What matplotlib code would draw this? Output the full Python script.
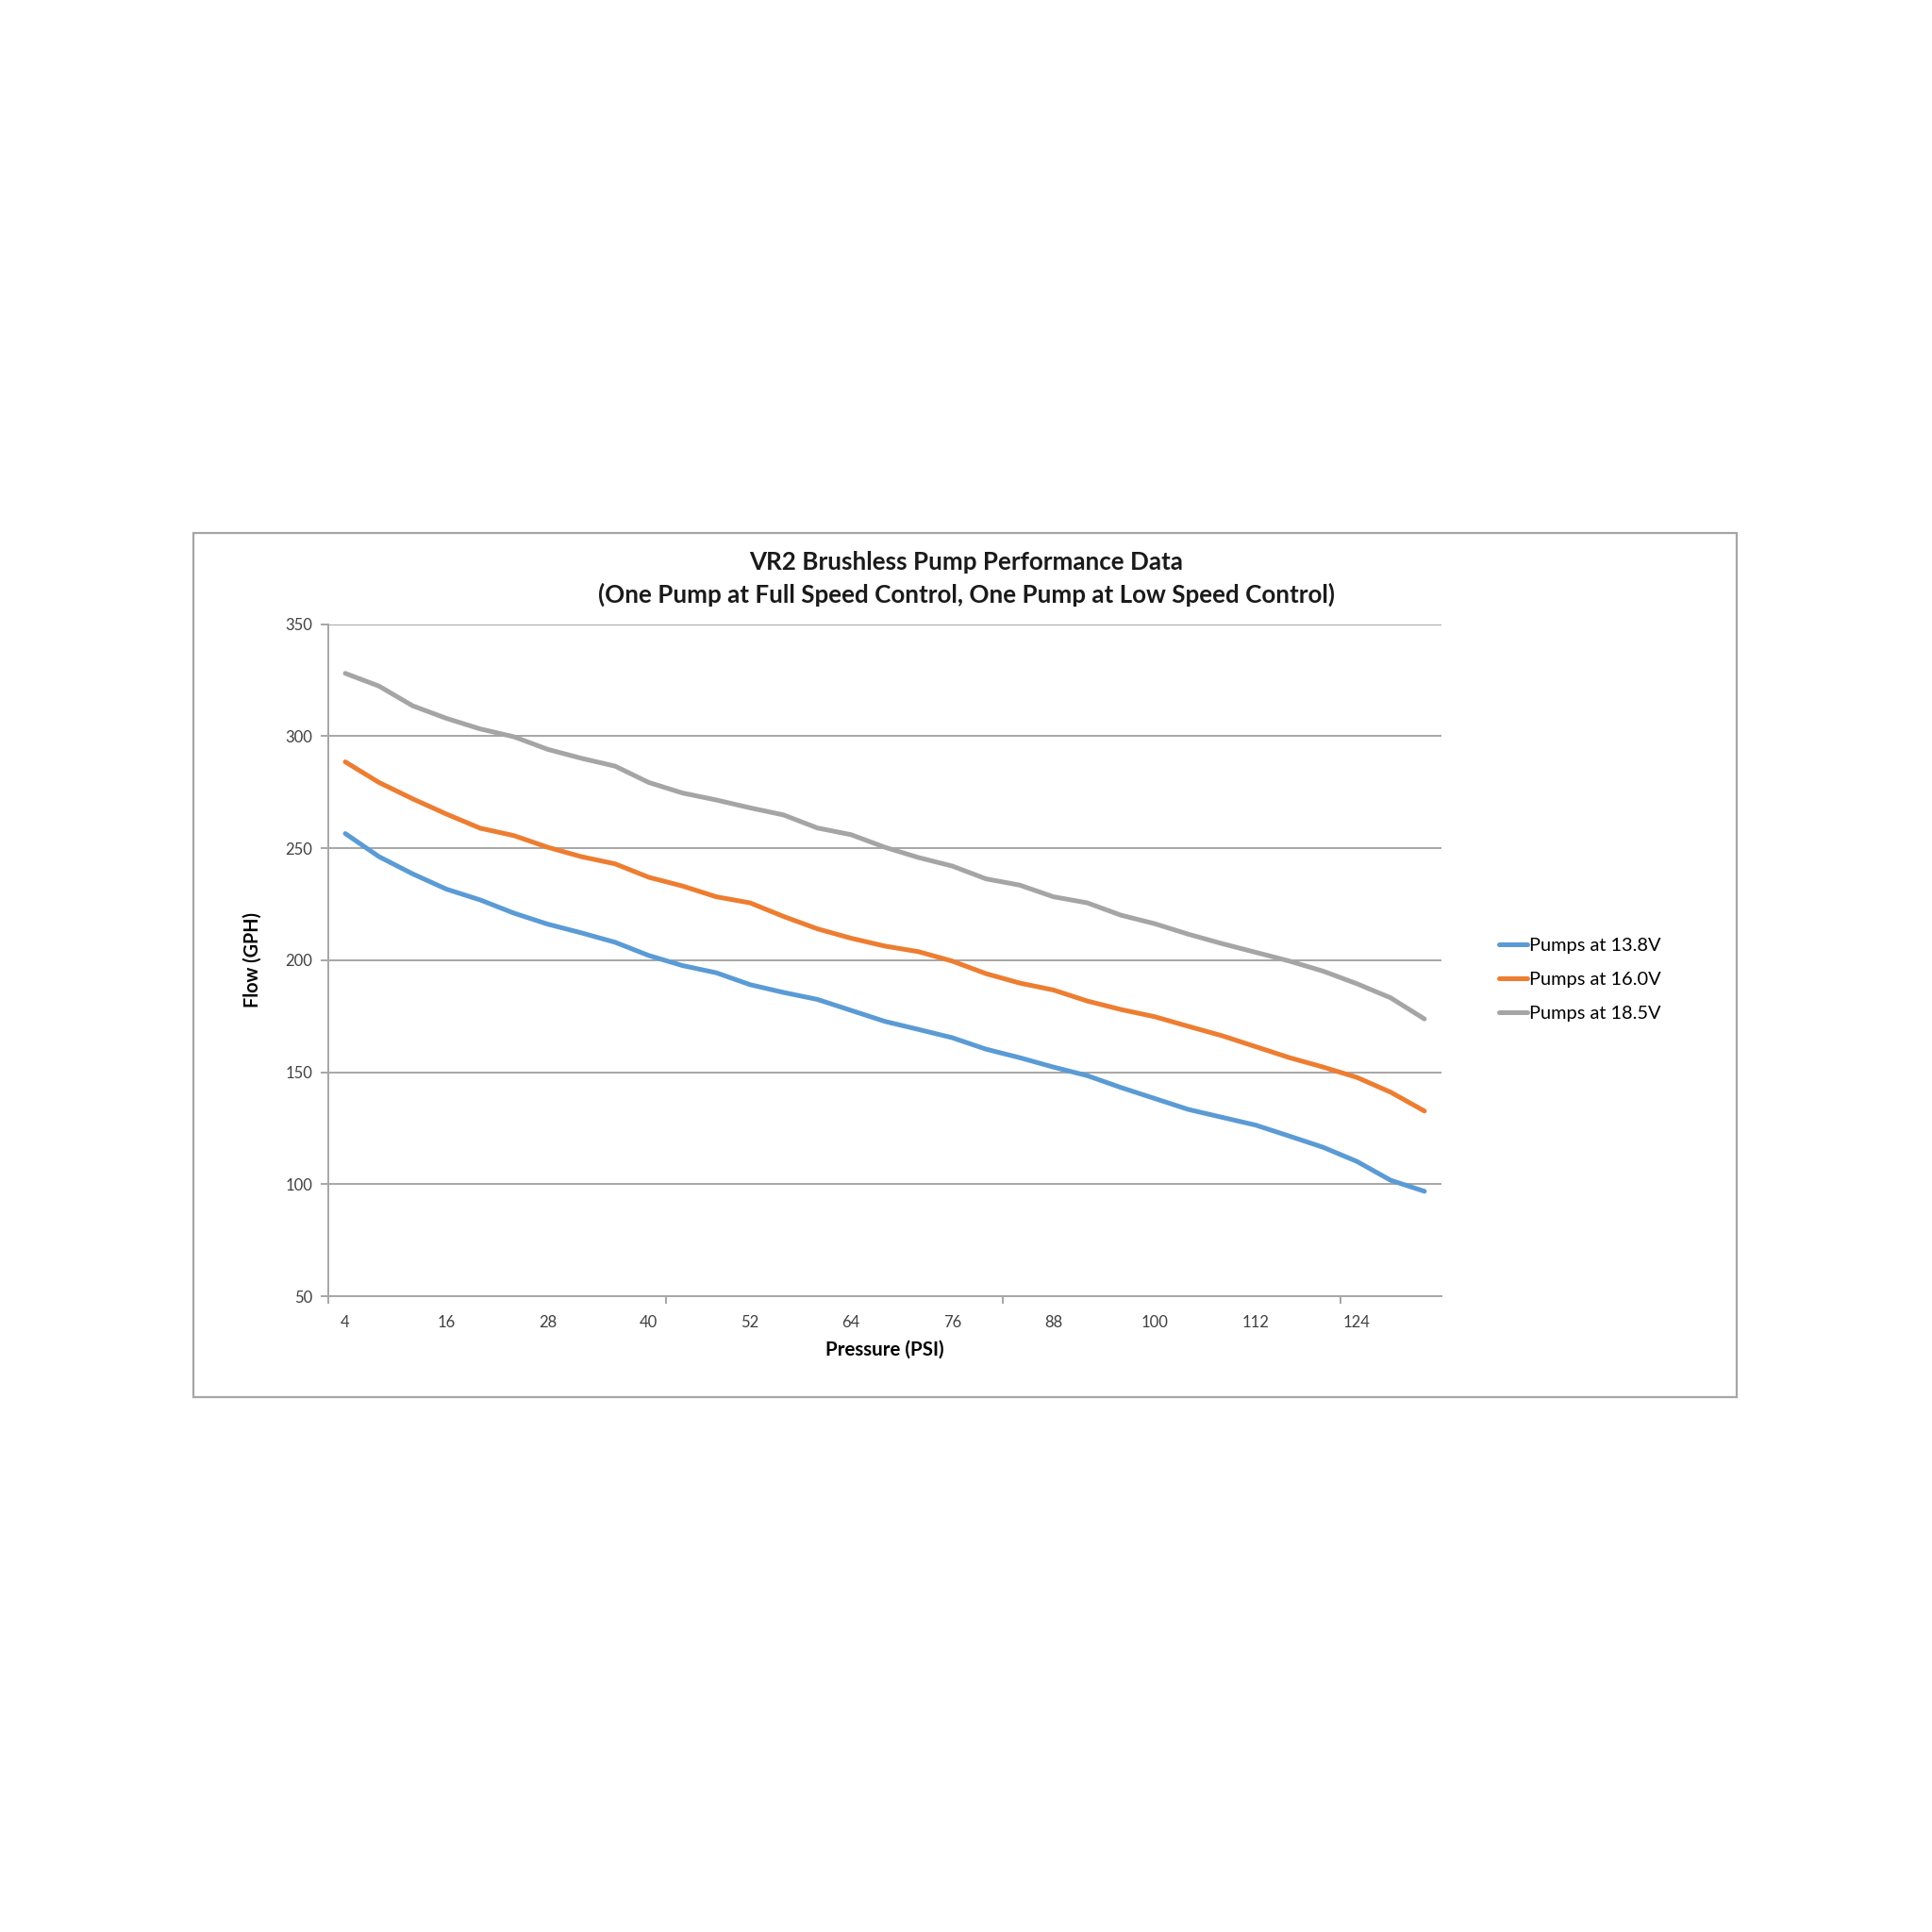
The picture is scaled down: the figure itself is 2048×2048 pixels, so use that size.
import matplotlib
matplotlib.use("Agg")
import matplotlib.pyplot as plt
from matplotlib.patches import Rectangle
from matplotlib.ticker import FixedLocator, NullFormatter

plt.rcParams['font.family'] = ['Lato', 'DejaVu Sans']

pressure = list(range(4, 133, 4))  # 4 .. 132 psi
flow_138 = [256.5, 246.2, 238.5, 231.7, 226.9, 221.0, 216.1, 212.2, 208.0, 202.1,
            197.6, 194.4, 189.1, 185.6, 182.5, 177.6, 172.7, 169.1, 165.4, 160.3,
            156.5, 152.3, 148.5, 143.2, 138.3, 133.4, 129.9, 126.4, 121.5, 116.5,
            110.2, 101.8, 96.9]
flow_160 = [288.5, 279.3, 272.0, 265.2, 258.9, 255.6, 250.4, 246.2, 243.0, 237.0,
            233.1, 228.3, 225.6, 219.5, 214.0, 209.8, 206.3, 203.8, 199.6, 194.0,
            189.8, 186.7, 181.8, 178.0, 174.8, 170.5, 166.3, 161.4, 156.5, 152.3,
            147.7, 141.1, 132.7]
flow_185 = [328.0, 322.3, 313.5, 307.9, 303.2, 299.7, 294.1, 290.1, 286.6, 279.3,
            274.6, 271.5, 268.0, 264.8, 259.0, 256.0, 250.4, 245.8, 242.0, 236.3,
            233.5, 228.3, 225.6, 220.1, 216.3, 211.6, 207.4, 203.5, 199.6, 195.1,
            189.5, 183.2, 173.8]
series_names = ["Pumps at 13.8V", "Pumps at 16.0V", "Pumps at 18.5V"]
series_colors = ["#5B9BD5", "#ED7D31", "#A5A5A5"]
y_ticks = [50, 100, 150, 200, 250, 300, 350]

fig = plt.figure(figsize=(10.24, 10.24), dpi=200)
fig.patch.set_facecolor("white")

# outer chart border
fig.add_artist(Rectangle((0.100, 0.277), 0.799, 0.447, transform=fig.transFigure,
                         fill=False, edgecolor="#A6A6A6", linewidth=0.8))

ax = fig.add_axes([0.170, 0.329, 0.576, 0.348])
idx = list(range(len(pressure)))
for vals, name, col in zip([flow_138, flow_160, flow_185], series_names, series_colors):
    ax.plot(idx, vals, color=col, linewidth=1.8, label=name, solid_capstyle="round",
            solid_joinstyle="round")

ax.set_xlim(-0.5, len(pressure) - 0.5)
ax.set_ylim(50, 350)
ax.set_yticks(y_ticks)
ax.set_yticklabels([str(v) for v in y_ticks])
ax.yaxis.grid(True, color="#A6A6A6", linewidth=0.7)
ax.set_axisbelow(True)

lab_idx = idx[::3]
ax.set_xticks(lab_idx)
ax.set_xticklabels([str(pressure[i]) for i in lab_idx])
ax.xaxis.set_minor_locator(FixedLocator([-0.5, 9.5, 19.5, 29.5]))
ax.xaxis.set_minor_formatter(NullFormatter())
ax.tick_params(axis="x", which="major", length=0, pad=7, labelsize=6.0, colors="#404040")
ax.tick_params(axis="x", which="minor", length=3, width=0.7, color="#A6A6A6")
ax.tick_params(axis="y", length=3, width=0.7, color="#A6A6A6", labelsize=6.0,
               labelcolor="#404040", pad=3)

for s in ["top", "right"]:
    ax.spines[s].set_visible(False)
for s in ["left", "bottom"]:
    ax.spines[s].set_color("#A6A6A6")
    ax.spines[s].set_linewidth(0.7)

ax.set_xlabel("Pressure (PSI)", fontsize=7.4, fontweight="bold", labelpad=4)
ax.set_ylabel("Flow (GPH)", fontsize=7.1, fontweight="bold", labelpad=9)

fig.text(0.5, 0.709, "VR2 Brushless Pump Performance Data", ha="center", va="center",
         fontsize=9.35, fontweight="bold", color="#1a1a1a")
fig.text(0.5, 0.692, "(One Pump at Full Speed Control, One Pump at Low Speed Control)",
         ha="center", va="center", fontsize=9.35, fontweight="bold", color="#1a1a1a")

leg = fig.legend(loc="center left", bbox_to_anchor=(0.767, 0.493), frameon=False,
                 fontsize=7.2, handlelength=1.5, handletextpad=0.1, labelspacing=0.95)

fig.savefig("out.png", dpi=200, facecolor="white")
